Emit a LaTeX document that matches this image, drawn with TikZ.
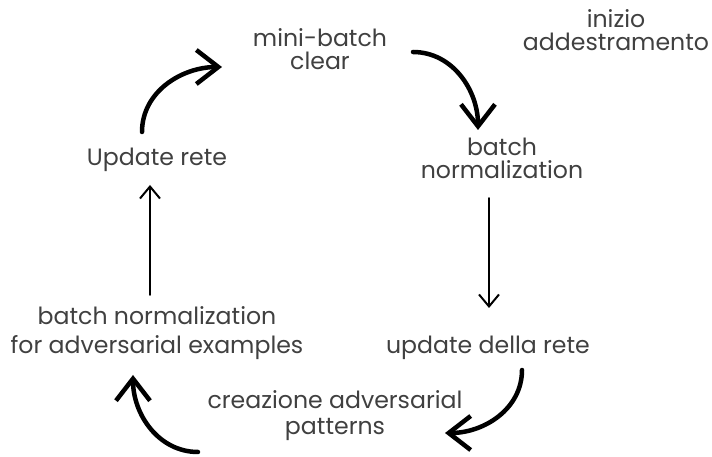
\documentclass[tikz,border=0pt]{standalone}
\usepackage{fontspec}
\setmainfont{Poppins}
\usetikzlibrary{arrows.meta}
\definecolor{ink}{HTML}{404040}

\begin{document}
\begin{tikzpicture}[line cap=round,line join=round,
  font=\fontsize{16.8}{16.5}\selectfont,
  lbl/.style={text=ink,align=center,inner sep=0pt},
  bigarrow/.style={line width=3.2pt,-{Straight Barb[length=5.5mm,width=8.5mm]}},
  thinarrow/.style={line width=1.4pt,-{Straight Barb[length=3mm,width=5mm]}}]
  \useasboundingbox (0,0) rectangle (17.8,11.425);

  % Steps of the training loop.
  \node[lbl] (mini) at (8.0,10.2) {mini-batch\\clear};
  \node[lbl] (inizio) at (15.4,10.675) {inizio\\addestramento};
  \node[lbl] (bn) at (12.55,7.475) {batch\\normalization};
  \node[lbl] (della) at (12.2,2.725) {update della rete};
  \node[lbl] (crea) at (8.375,1.025) {creazione adversarial\\[2pt]patterns};
  \node[lbl] (advbn) at (3.925,3.1) {batch normalization\\[4pt]for adversarial examples};
  \node[lbl] (upd) at (3.925,7.425) {Update rete};

  % Free ends of the arrows.
  \coordinate (a1) at (3.55,8.125);
  \coordinate (b1) at (5.55,9.75);
  \coordinate (a2) at (10.325,10.125);
  \coordinate (b2) at (11.95,8.175);
  \coordinate (a3) at (12.225,6.475);
  \coordinate (b3) at (12.225,3.725);
  \coordinate (a4) at (13.05,2.175);
  \coordinate (b4) at (11.125,0.6);
  \coordinate (a5) at (4.95,0.125);
  \coordinate (b5) at (3.325,2.05);
  \coordinate (a6) at (3.75,4.05);
  \coordinate (b6) at (3.75,6.8);

  % Arrows.
  \draw[bigarrow] (a1) to[out=90,in=180] (b1);
  \draw[bigarrow] (a2) to[out=0,in=90] (b2);
  \draw[thinarrow] (a3) -- (b3);
  \draw[bigarrow] (a4) to[out=-90,in=0] (b4);
  \draw[bigarrow] (a5) to[out=180,in=-90] (b5);
  \draw[thinarrow] (a6) -- (b6);
\end{tikzpicture}
\end{document}
